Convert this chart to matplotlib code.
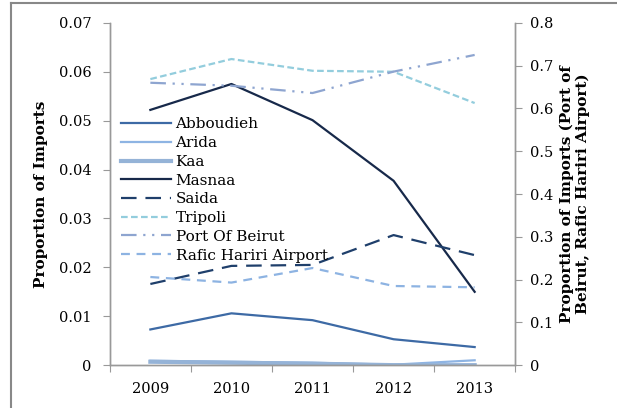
import numpy as np
import matplotlib
matplotlib.use('Agg')
import matplotlib.pyplot as plt
from matplotlib.lines import Line2D
from matplotlib.ticker import FixedLocator

years = ['2009', '2010', '2011', '2012', '2013']

# left axis series
abboudieh = [0.0073, 0.0106, 0.0092, 0.0053, 0.0037]
arida = [0.0009, 0.0007, 0.0005, 0.0001, 0.0010]
kaa = [0.0007, 0.0005, 0.0003, 0.0000, 0.0000]
masnaa = [0.0522, 0.0575, 0.0501, 0.0377, 0.0150]
saida = [0.0166, 0.0203, 0.0205, 0.0266, 0.0225]
tripoli = [0.0585, 0.0626, 0.0602, 0.0600, 0.0536]

# right axis series
port_beirut = [0.660, 0.653, 0.636, 0.686, 0.725]
rafic_airport = [0.206, 0.193, 0.227, 0.185, 0.182]

plt.rcParams['font.family'] = ['DejaVu Serif']
plt.rcParams['font.size'] = 10.5

fig = plt.figure(figsize=(6.17, 4.08), dpi=100)
ax = fig.add_axes([0.178, 0.105, 0.657, 0.839])
ax2 = ax.twinx()

x = np.arange(len(years))
h = []
h += ax.plot(x, abboudieh, color='#3d6aa5', lw=1.6, label='Abboudieh')
h += ax.plot(x, arida, color='#8eb4e3', lw=1.6, label='Arida')
h += ax.plot(x, kaa, color='#95b3d7', lw=3.0, label='Kaa')
h += ax.plot(x, masnaa, color='#17294a', lw=1.6, label='Masnaa')
h += ax.plot(x, saida, color='#1f3f6b', lw=1.6, dashes=(7, 4), label='Saida')
h += ax.plot(x, tripoli, color='#93cddd', lw=1.6, dashes=(3, 1.5), label='Tripoli')
h += ax2.plot(x, port_beirut, color='#8ea5d0', lw=1.6, dashes=(7, 3, 1, 3, 1, 3), label='Port Of Beirut')
h += ax2.plot(x, rafic_airport, color='#8db3e2', lw=1.6, dashes=(4, 3), label='Rafic Hariri Airport')

ax.set_xlim(-0.5, 4.5)
ax.set_ylim(0, 0.07)
ax2.set_ylim(0, 0.8)
ax.set_yticks(np.arange(0, 0.071, 0.01))
ax.set_yticklabels(['0'] + ['%.2f' % v for v in np.arange(0.01, 0.071, 0.01)])
ax2.set_yticks(np.arange(0, 0.81, 0.1))
ax2.set_yticklabels(['0'] + ['%.1f' % v for v in np.arange(0.1, 0.81, 0.1)])

ax.xaxis.set_major_locator(FixedLocator(np.arange(-0.5, 4.6, 1)))
ax.set_xticklabels([])
ax.set_xticks(x, minor=True)
ax.set_xticklabels(years, minor=True)
ax.tick_params(axis='x', which='minor', length=0, pad=12)
ax.tick_params(axis='x', which='major', length=5, direction='out', color='#999999')
ax.tick_params(axis='y', length=5, color='#999999', pad=8)
ax2.tick_params(axis='y', length=5, color='#999999', pad=6)

for a in (ax, ax2):
    a.spines['top'].set_visible(False)
    for s in ('left', 'right', 'bottom'):
        a.spines[s].set_color('#999999')
        a.spines[s].set_linewidth(1.0)

ax.set_ylabel('Proportion of Imports', fontweight='bold', fontsize=11, labelpad=8)
ax2.set_ylabel('Proportion of Imports (Port of\nBeirut, Rafic Hariri Airport)',
               fontweight='bold', fontsize=11, labelpad=4)

ax.legend(handles=h, loc='upper left', bbox_to_anchor=(0.0, 0.755), frameon=False,
          fontsize=11, handlelength=3.3, labelspacing=0.31, handletextpad=0.3,
          borderaxespad=0.3)

# outer frame of the original chart box
fig.add_artist(Line2D([11 / 617, 11 / 617], [0, 405 / 408], color='#888888', lw=1.5))
fig.add_artist(Line2D([11 / 617, 1], [405 / 408, 405 / 408], color='#888888', lw=1.5))

fig.savefig('out.png', dpi=100)
